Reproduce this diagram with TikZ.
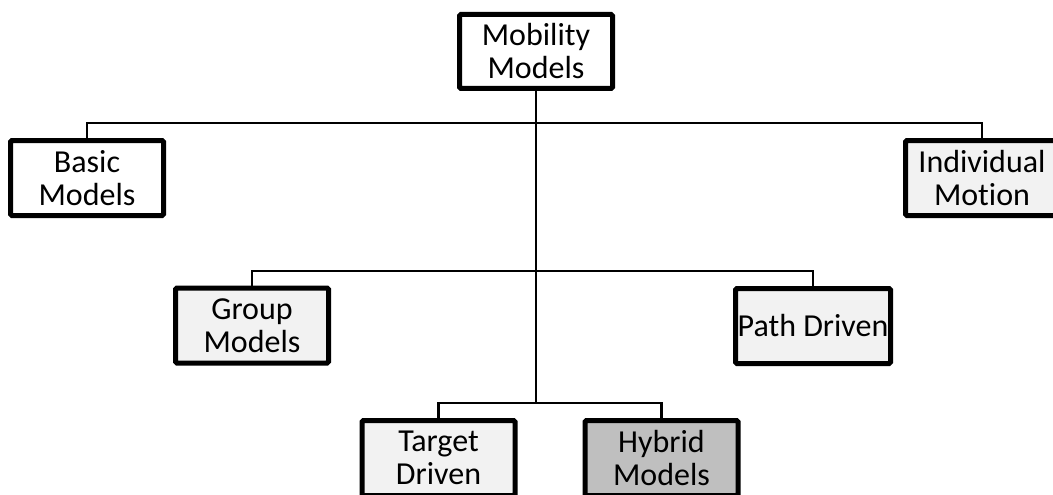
\documentclass[tikz,border=0pt]{standalone}
\usepackage{fontspec}
\setmainfont[Ligatures=NoCommon]{Carlito}
\usetikzlibrary{positioning}
\definecolor{lightfill}{HTML}{F2F2F2}
\definecolor{darkfill}{HTML}{BFBFBF}
\tikzstyle{model} = [rectangle, rounded corners=1.5pt, minimum width=153pt, minimum height=75pt, inner sep=1pt, align=center, text centered, draw=black, line width=5pt, fill=white, font=\fontsize{32}{33}\selectfont]
\tikzstyle{sub} = [model, fill=lightfill]
\tikzstyle{hyb} = [model, fill=darkfill]
\tikzstyle{link} = [line width=2.2pt]

\begin{document}
\begin{tikzpicture}[x=1pt, y=-1pt]
	\useasboundingbox (0,0) rectangle (1053,495);
	\clip (0,0) rectangle (1053,495);
	\node (mob) [model, minimum height=74pt] at (536,51.5) {Mobility\\Models};

	\node (basic) [model] at (87,178) {Basic\\Models};
	\node (indiv) [sub] at (982,178) {Individual\\Motion};
		\coordinate (j1) at (536,123);
		\draw [link] (basic.north) |- (j1) -| (indiv.north);

	\node (group) [sub] at (252,325.5) {Group\\Models};
	\node (path) [sub, minimum width=155pt] at (813,326) {Path Driven};
		\coordinate (j2) at (536,271);
		\draw [link] (group.north) |- (j2) -| (path.north);

	\node (target) [sub] at (438.5,458) {Target\\Driven};
	\node (hybrid) [hyb] at (661.5,458) {Hybrid\\Models};
		\coordinate (j3) at (536,403);
		\draw [link] (target.north) |- (j3) -| (hybrid.north);

		\draw [link, line width=2.6pt] (mob) -- (j3);
\end{tikzpicture}
\end{document}
